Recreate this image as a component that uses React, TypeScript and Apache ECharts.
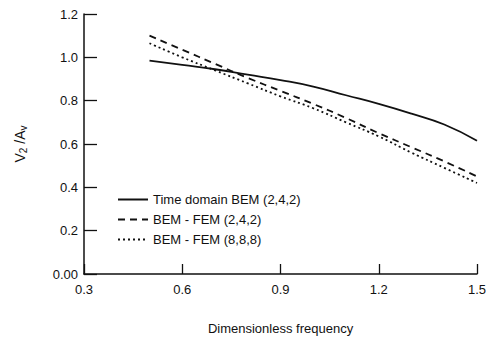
import React, { useEffect, useRef } from "react";
import * as echarts from "echarts";

const freq = [0.5, 0.6, 0.7, 0.8, 0.9, 1.0, 1.1, 1.2, 1.3, 1.4, 1.5];
const timeDomainBEM = [0.985, 0.965, 0.945, 0.92, 0.895, 0.865, 0.825, 0.785, 0.74, 0.69, 0.615];
const bemFem242 = [1.1, 1.035, 0.97, 0.905, 0.845, 0.785, 0.72, 0.65, 0.585, 0.52, 0.45];
const bemFem888 = [1.065, 1.0, 0.94, 0.88, 0.82, 0.765, 0.7, 0.635, 0.56, 0.49, 0.42];
const seriesNames = ["Time domain BEM (2,4,2)", "BEM - FEM (2,4,2)", "BEM - FEM (8,8,8)"];

const FONT = "Liberation Sans, Arial, sans-serif";

export default function App() {
  const ref = useRef<HTMLDivElement>(null);
  useEffect(() => {
    if (!ref.current) return;
    const chart = echarts.init(ref.current, undefined, { renderer: "svg" });
    const mk = (vals: number[]) => freq.map((f, i) => [f, vals[i]]);
    chart.setOption({
      animation: false,
      backgroundColor: "#fff",
      grid: { left: 84, top: 14, right: 15, bottom: 76, containLabel: false },
      legend: {
        orient: "vertical",
        left: 112,
        top: 188,
        itemWidth: 30,
        itemHeight: 10,
        itemGap: 7,
        itemStyle: { color: "rgba(0,0,0,0)", borderWidth: 0 },
        textStyle: { fontFamily: FONT, fontSize: 13, color: "#111" },
        data: seriesNames,
      },
      xAxis: {
        type: "value",
        min: 0.3,
        max: 1.5,
        interval: 0.3,
        name: "Dimensionless frequency",
        nameLocation: "middle",
        nameGap: 48,
        nameTextStyle: { fontFamily: FONT, fontSize: 13, color: "#111" },
        axisLine: { lineStyle: { color: "#111", width: 1.5 } },
        axisTick: { inside: true, length: 10, lineStyle: { color: "#111", width: 1.3 } },
        axisLabel: {
          fontFamily: FONT,
          fontSize: 13,
          color: "#111",
          margin: 9,
          formatter: (v: number) => v.toFixed(1),
        },
        splitLine: { show: false },
      },
      yAxis: {
        type: "value",
        min: 0,
        max: 1.2,
        interval: 0.2,
        name: "V{sub|2} /A{sub|v}",
        nameLocation: "middle",
        nameGap: 56,
        nameRotate: 90,
        nameTextStyle: {
          fontFamily: FONT,
          fontSize: 14,
          color: "#111",
          rich: { sub: { fontFamily: FONT, fontSize: 10, color: "#111", verticalAlign: "bottom", padding: [6, 0, 0, 0] } },
        },
        axisLine: { show: true, lineStyle: { color: "#111", width: 1.5 } },
        axisTick: { show: true, inside: true, length: 13, lineStyle: { color: "#111", width: 1.3 } },
        axisLabel: {
          fontFamily: FONT,
          fontSize: 13,
          color: "#111",
          margin: 6,
          formatter: (v: number) => (v === 0 ? "0.00" : v.toFixed(1)),
        },
        splitLine: { show: false },
      },
      series: [
        {
          name: seriesNames[0],
          type: "line",
          data: mk(timeDomainBEM),
          symbol: "none",
          smooth: true,
          lineStyle: { color: "#111", width: 1.8, type: "solid" },
          itemStyle: { color: "#111" },
        },
        {
          name: seriesNames[1],
          type: "line",
          data: mk(bemFem242),
          symbol: "none",
          smooth: true,
          lineStyle: { color: "#111", width: 1.8, type: [7, 5] },
          itemStyle: { color: "#111" },
        },
        {
          name: seriesNames[2],
          type: "line",
          data: mk(bemFem888),
          symbol: "none",
          smooth: true,
          lineStyle: { color: "#111", width: 1.8, type: [2, 3] },
          itemStyle: { color: "#111" },
        },
      ],
    });
    return () => chart.dispose();
  }, []);
  return <div ref={ref} style={{ width: 492, height: 350, position: "absolute", left: 0, top: 0 }} />;
}
